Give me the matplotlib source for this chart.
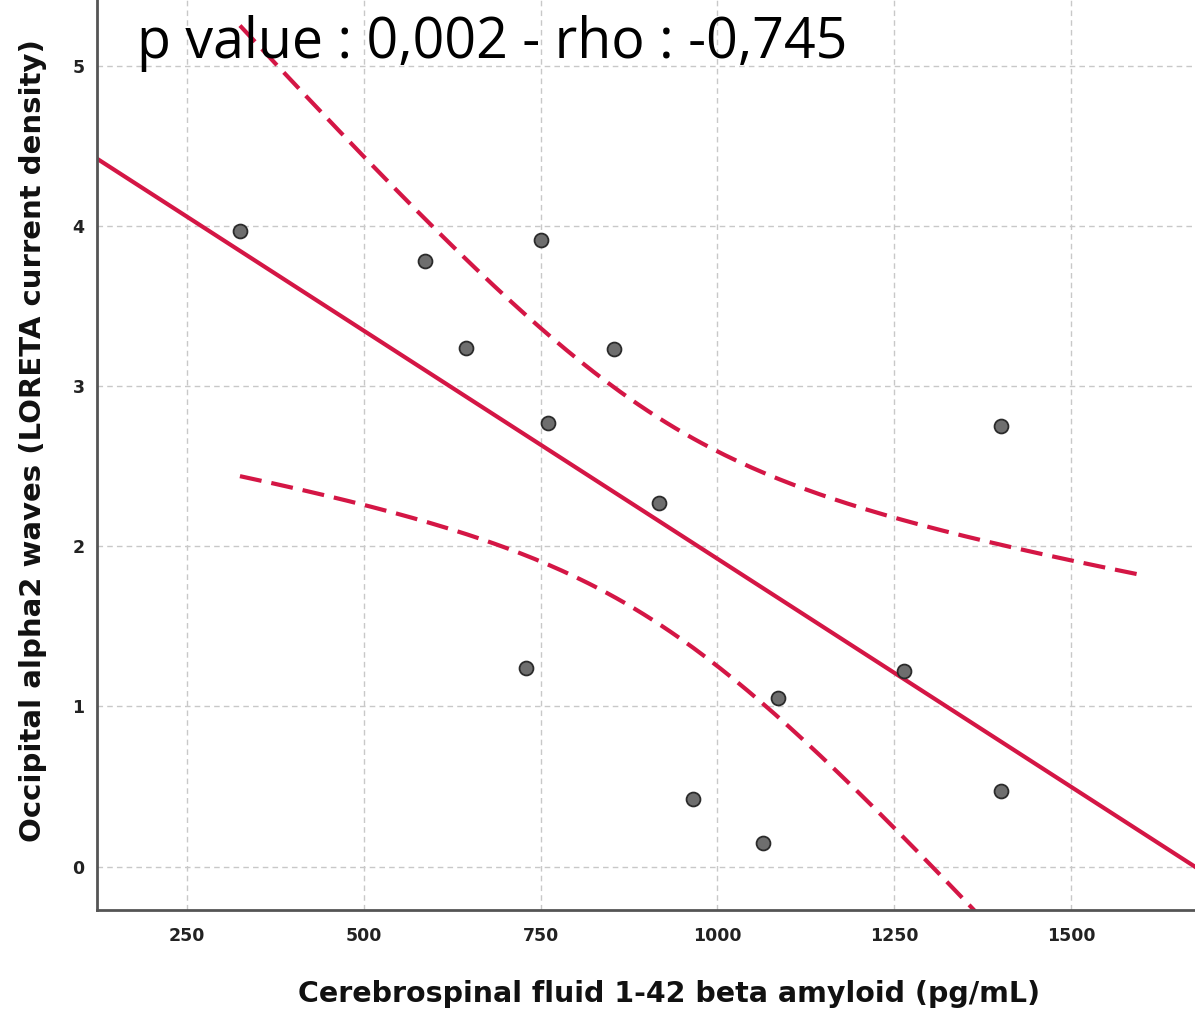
import numpy as np
import matplotlib
matplotlib.use("Agg")
import matplotlib.pyplot as plt

# values
amyloid = [325, 586, 644, 729, 750, 761, 854, 918, 965, 1064, 1086, 1264, 1401, 1401]
alpha2 = [3.97, 3.78, 3.24, 1.24, 3.91, 2.77, 3.23, 2.27, 0.42, 0.15, 1.05, 1.22, 2.75, 0.47]
x_ticks = [250, 500, 750, 1000, 1250, 1500]
y_ticks = [0, 1, 2, 3, 4, 5]
title_txt = "p value : 0,002 - rho : -0,745"

x = np.array(amyloid, dtype=float)
y = np.array(alpha2, dtype=float)

# linear fit + 95% CI of the mean
n = len(x)
b1, b0 = np.polyfit(x, y, 1)
resid = y - (b0 + b1 * x)
s = np.sqrt(np.sum(resid ** 2) / (n - 2))
t = 2.179  # t(0.975, 12)
xs = np.linspace(325, 1600, 200)
se = s * np.sqrt(1 / n + (xs - x.mean()) ** 2 / np.sum((x - x.mean()) ** 2))
fit_xs = b0 + b1 * xs

red = "#d41645"
fig = plt.figure(figsize=(11.95, 10.11), dpi=100)
ax = fig.add_axes([0.0812, 0.1, 0.9188, 0.9])

xl = np.array([123, 1675])
ax.plot(xl, b0 + b1 * xl, color=red, lw=3, zorder=2)
ax.plot(xs, fit_xs + t * se, color=red, lw=3, dashes=(5.3, 2.4), zorder=2)
ax.plot(xs, fit_xs - t * se, color=red, lw=3, dashes=(5.3, 2.4), zorder=2)
ax.scatter(x, y, s=100, color="#6e6e6e", edgecolor="#2b2b2b", linewidth=1.3, zorder=3)

ax.set_xlim(123, 1675)
ax.set_ylim(-0.27, 5.41)
ax.set_xticks(x_ticks)
ax.set_yticks(y_ticks)
ax.grid(True, color="#c8c8c8", linestyle=(0, (4, 3)), linewidth=1)
ax.set_axisbelow(True)
ax.tick_params(length=0, labelsize=12.5)
ax.tick_params(axis="x", pad=12)
ax.tick_params(axis="y", pad=9)
for lab in ax.get_xticklabels() + ax.get_yticklabels():
    lab.set_fontweight("bold")
    lab.set_fontfamily("DejaVu Sans")
    lab.set_color("#222222")
ax.spines["top"].set_visible(False)
ax.spines["right"].set_visible(False)
for sp in ["left", "bottom"]:
    ax.spines[sp].set_color("#555555")
    ax.spines[sp].set_linewidth(2)

ax.set_xlabel("Cerebrospinal fluid 1-42 beta amyloid (pg/mL)", fontsize=20.5,
              fontweight="bold", family="DejaVu Sans", color="#111111")
ax.xaxis.set_label_coords(0.521, -0.077)
ax.set_ylabel("Occipital alpha2 waves (LORETA current density)", fontsize=21,
              fontweight="bold", family="DejaVu Sans", color="#111111")
ax.yaxis.set_label_coords(-0.0455, 0.516)

fig.text(137 / 1195, 1 - 58 / 1011, title_txt, fontsize=40,
         family=["Liberation Sans Narrow", "Open Sans"], va="baseline", ha="left")

fig.savefig("out.png", dpi=100)
